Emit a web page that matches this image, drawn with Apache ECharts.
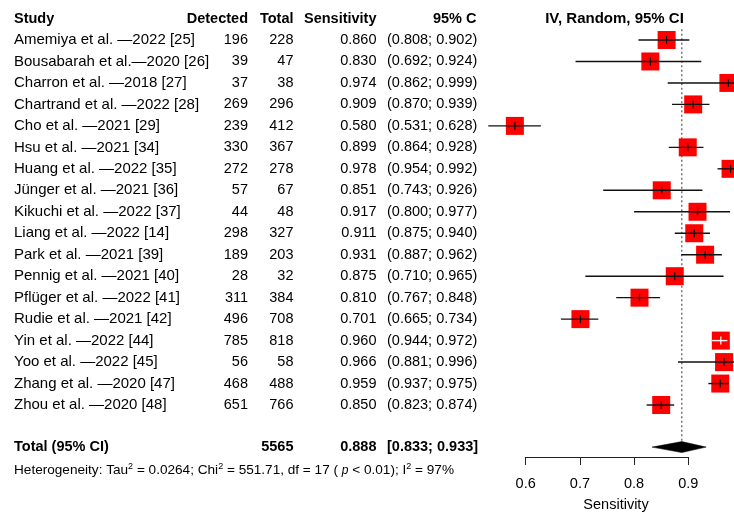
<!DOCTYPE html>
<html>
<head>
<meta charset="utf-8">
<script src="https://cdn.jsdelivr.net/npm/echarts@6/dist/echarts.min.js"></script>
<style>html,body{margin:0;padding:0;background:#fff;}#c{width:734px;height:513px;}</style>
</head>
<body>
<div id="c"></div>
<script>
const studies = [
  'Amemiya et al. \u20142022 [25]', 'Bousabarah et al.\u20142020 [26]', 'Charron et al. \u20142018 [27]',
  'Chartrand et al. \u20142022 [28]', 'Cho et al. \u20142021 [29]', 'Hsu et al. \u20142021 [34]',
  'Huang et al. \u20142022 [35]', 'J\u00fcnger et al. \u20142021 [36]', 'Kikuchi et al. \u20142022 [37]',
  'Liang et al. \u20142022 [14]', 'Park et al. \u20142021 [39]', 'Pennig et al. \u20142021 [40]',
  'Pfl\u00fcger et al. \u20142022 [41]', 'Rudie et al. \u20142021 [42]', 'Yin et al. \u20142022 [44]',
  'Yoo et al. \u20142022 [45]', 'Zhang et al. \u20142020 [47]', 'Zhou et al. \u20142020 [48]'
];
const detected = [196, 39, 37, 269, 239, 330, 272, 57, 44, 298, 189, 28, 311, 496, 785, 56, 468, 651];
const totals = [228, 47, 38, 296, 412, 367, 278, 67, 48, 327, 203, 32, 384, 708, 818, 58, 488, 766];
const sensitivity = [0.860, 0.830, 0.974, 0.909, 0.580, 0.899, 0.978, 0.851, 0.917, 0.911, 0.931, 0.875, 0.810, 0.701, 0.960, 0.966, 0.959, 0.850];
const ciLower = [0.808, 0.692, 0.862, 0.870, 0.531, 0.864, 0.954, 0.743, 0.800, 0.875, 0.887, 0.710, 0.767, 0.665, 0.944, 0.881, 0.937, 0.823];
const ciUpper = [0.902, 0.924, 0.999, 0.939, 0.628, 0.928, 0.992, 0.926, 0.977, 0.940, 0.962, 0.965, 0.848, 0.734, 0.972, 0.996, 0.975, 0.874];
const pooledTotal = 5565;
const pooledSens = 0.888;
const pooledLower = 0.833;
const pooledUpper = 0.933;
const tau2 = '0.0264';
const chi2 = '551.71';
const df = 17;
const pText = '< 0.01';
const i2 = '97%';
const xTicks = [0.6, 0.7, 0.8, 0.9];
const headers = ['Study', 'Detected', 'Total', 'Sensitivity', '95% C', 'IV, Random, 95% CI'];
const xLabel = 'Sensitivity';

const FONT = '"Liberation Sans", Arial, sans-serif';
const FS = 14.5;
const TOTAL_ROW = 18.95;
const HET_ROW = 20.05;
const SQ = 18;

const chart = echarts.init(document.getElementById('c'), null, {renderer: 'canvas'});

function txt(x, y, text, align, bold, size) {
  return {type: 'text', x: x, y: y, style: {text: text, align: align || 'left', verticalAlign: 'middle',
    font: (bold ? 'bold ' : '') + (size || FS) + 'px ' + FONT, fill: '#000'}};
}

const colX = {study: 14, det: 248, tot: 293.5, sens: 376.5, ci: 387};

const option = {
  animation: false,
  backgroundColor: '#fff',
  grid: [
    {left: 471.5, width: 260.16, top: 7.8, height: 483.1, containLabel: false},
    {left: 525.7, width: 162.6, top: 447, height: 10, containLabel: false}
  ],
  xAxis: [
    {gridIndex: 0, type: 'value', min: 0.5, max: 0.98, show: false},
    {gridIndex: 1, type: 'value', min: xTicks[0], max: xTicks[xTicks.length - 1], interval: 0.1, position: 'bottom',
      axisLine: {show: true, lineStyle: {color: '#222', width: 1}},
      axisTick: {show: true, length: 8, lineStyle: {color: '#222', width: 1}},
      axisLabel: {show: true, margin: 19, fontSize: FS, fontFamily: FONT, color: '#000',
        formatter: v => v.toFixed(1)},
      splitLine: {show: false}}
  ],
  yAxis: [
    {gridIndex: 0, type: 'value', min: -1.5, max: 21, inverse: true, show: false},
    {gridIndex: 1, type: 'value', show: false}
  ],
  graphic: [
    {type: 'text', x: 616, y: 505, style: {text: xLabel, font: FS + 'px ' + FONT, fill: '#000', align: 'center', verticalAlign: 'middle'}}
  ],
  series: [
    {
      type: 'custom', xAxisIndex: 0, yAxisIndex: 0, clip: false, silent: true,
      data: [[pooledSens]],
      renderItem: function (params, api) {
        const a = api.coord([api.value(0), -0.5]);
        const b = api.coord([api.value(0), 18.72]);
        return {type: 'line', shape: {x1: a[0], y1: a[1], x2: b[0], y2: b[1]},
          style: {stroke: '#555', lineWidth: 1.2, lineDash: [2, 2.5]}};
      }
    },
    {
      type: 'custom', xAxisIndex: 0, yAxisIndex: 0, clip: false, silent: true,
      data: sensitivity.map((s, i) => [s, ciLower[i], ciUpper[i], i]),
      renderItem: function (params, api) {
        const c = api.coord([api.value(0), api.value(3)]);
        const lo = api.coord([api.value(1), api.value(3)]);
        const hi = api.coord([api.value(2), api.value(3)]);
        const inside = (hi[0] - lo[0]) < SQ;
        const lineCol = inside ? '#fff' : '#111';
        return {type: 'group', children: [
          {type: 'rect', shape: {x: c[0] - SQ / 2, y: c[1] - SQ / 2, width: SQ, height: SQ},
            style: {fill: '#ff0000', stroke: null}},
          {type: 'line', shape: {x1: lo[0], y1: c[1], x2: hi[0], y2: c[1]},
            style: {stroke: lineCol, lineWidth: 1.4}},
          {type: 'line', shape: {x1: c[0], y1: c[1] - 4, x2: c[0], y2: c[1] + 4},
            style: {stroke: lineCol, lineWidth: 1.2}}
        ]};
      }
    },
    {
      type: 'custom', xAxisIndex: 0, yAxisIndex: 0, clip: false, silent: true,
      data: [[pooledSens, pooledLower, pooledUpper]],
      renderItem: function (params, api) {
        const y = 18.96;
        const c = api.coord([api.value(0), y]);
        const lo = api.coord([api.value(1), y]);
        const hi = api.coord([api.value(2), y]);
        const h = 5.5;
        return {type: 'polygon', shape: {points: [[lo[0], c[1]], [c[0], c[1] - h], [hi[0], c[1]], [c[0], c[1] + h]]},
          style: {fill: '#000', stroke: '#000', lineWidth: 0.5}};
      }
    },
    {
      type: 'custom', xAxisIndex: 0, yAxisIndex: 0, clip: false, silent: true,
      data: studies.map((s, i) => [0.6, i]),
      renderItem: function (params, api) {
        const i = params.dataIndex;
        const y = api.coord([0.6, api.value(1)])[1];
        return {type: 'group', children: [
          txt(colX.study, y, studies[i], 'left', false, 15),
          txt(colX.det, y, String(detected[i]), 'right'),
          txt(colX.tot, y, String(totals[i]), 'right'),
          txt(colX.sens, y, sensitivity[i].toFixed(3), 'right'),
          txt(colX.ci, y, '(' + ciLower[i].toFixed(3) + '; ' + ciUpper[i].toFixed(3) + ')', 'left')
        ]};
      }
    },
    {
      type: 'custom', xAxisIndex: 0, yAxisIndex: 0, clip: false, silent: true,
      data: [[0.6, -1]],
      renderItem: function (params, api) {
        const yh = api.coord([0.6, -1])[1];
        const yt = api.coord([0.6, TOTAL_ROW])[1];
        const yg = api.coord([0.6, HET_ROW])[1];
        return {type: 'group', children: [
          txt(colX.study, yh, headers[0], 'left', true),
          txt(colX.det, yh, headers[1], 'right', true),
          txt(colX.tot, yh, headers[2], 'right', true),
          txt(colX.sens, yh, headers[3], 'right', true),
          txt(476.5, yh, headers[4], 'right', true),
          txt(614.5, yh, headers[5], 'center', true, 15),
          txt(colX.study, yt, 'Total (95% CI)', 'left', true),
          txt(colX.tot, yt, String(pooledTotal), 'right', true),
          txt(colX.sens, yt, pooledSens.toFixed(3), 'right', true),
          txt(colX.ci, yt, '[' + pooledLower.toFixed(3) + '; ' + pooledUpper.toFixed(3) + ']', 'left', true),
          {type: 'text', x: colX.study, y: yg, style: {
            text: 'Heterogeneity: Tau{sup|2} = ' + tau2 + '; Chi{sup|2} = ' + chi2 + ', df = ' + df + ' ( {it|p} ' + pText + '); I{sup|2} = ' + i2,
            align: 'left', verticalAlign: 'middle', font: '13.6px ' + FONT, fill: '#000',
            rich: {
              sup: {fontSize: 9, fontFamily: FONT, verticalAlign: 'top', padding: [0, 0, 7, 0], fill: '#000'},
              it: {fontSize: 12, fontStyle: 'italic', fontFamily: FONT, fill: '#000'}
            }}}
        ]};
      }
    }
  ]
};
chart.setOption(option);
</script>
</body>
</html>
